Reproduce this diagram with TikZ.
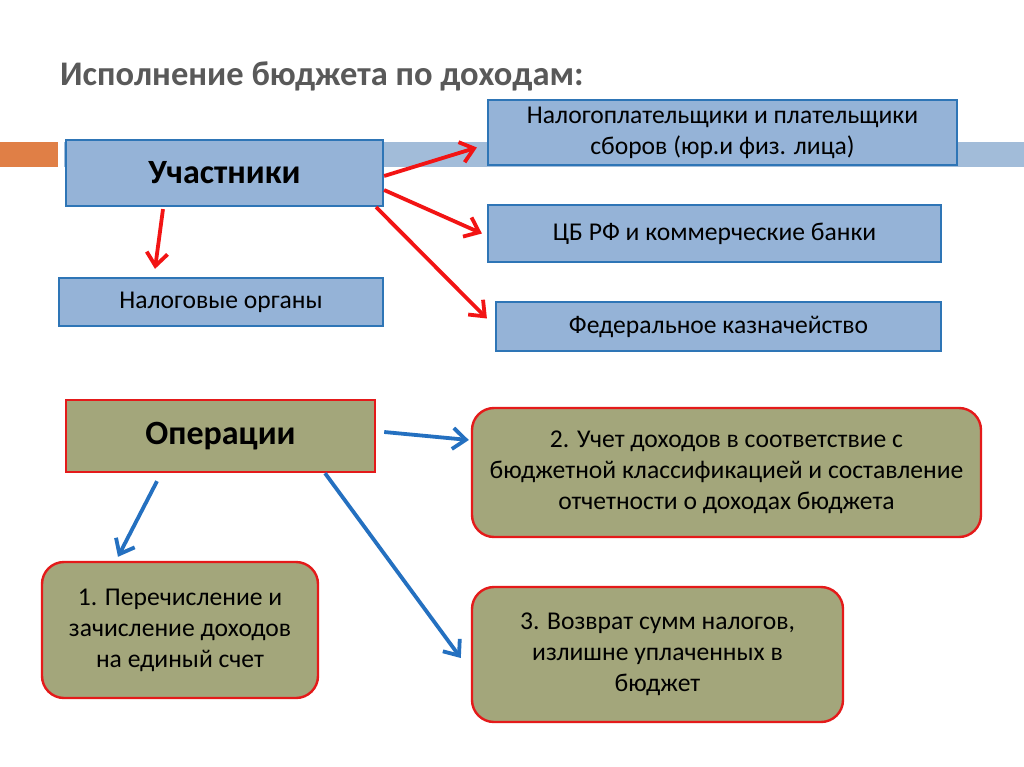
\documentclass[tikz,border=0pt]{standalone}
\usepackage{fontspec}
\setmainfont{Carlito}
\usetikzlibrary{arrows.meta,positioning}
\definecolor{bluefill}{HTML}{95B3D7}
\definecolor{blueline}{HTML}{2E75B6}
\definecolor{barc}{HTML}{A2BCD9}
\definecolor{orangec}{HTML}{E07F46}
\definecolor{olivefill}{HTML}{A3A67B}
\definecolor{redline}{HTML}{E41A1A}
\definecolor{arrred}{HTML}{F21414}
\definecolor{arrblue}{HTML}{2470C0}
\definecolor{titlec}{HTML}{595959}

\begin{document}
\begin{tikzpicture}[x=1pt, y=-1pt,
      every node/.style={font=\fontsize{25.6}{31}\selectfont, align=center, inner sep=0pt},
      bl/.style={draw=blueline, line width=2.2pt, fill=bluefill},
      ol/.style={draw=redline, line width=2.4pt, fill=olivefill},
      olr/.style={ol, rounded corners=22pt},
      hd/.style={font=\fontsize{34}{40}\selectfont\bfseries},
      ra/.style={-{Straight Barb[length=13pt,width=21pt]}, line width=3.8pt, draw=arrred},
      ba/.style={-{Straight Barb[length=13pt,width=21pt]}, line width=3.8pt, draw=arrblue}]
    \useasboundingbox (0,0) rectangle (1024,767);
    \fill[white] (0,0) rectangle (1024,767);
    % header bar
    \fill[orangec] (0,142) rectangle (58,167);
    \fill[barc] (64,142) rectangle (1024,167);
    \node[anchor=west, font=\fontsize{34.5}{40}\selectfont\bfseries, text=titlec] (title) at (60,76)
      {Исполнение бюджета по доходам:};
    % participants
    \node[bl, hd, minimum width=317pt, minimum height=66pt] (uch) at (224.5,173) {Участники};
    \node[bl, minimum width=469pt, minimum height=65pt] (nal) at (722.5,132.5)
      {Налогоплательщики и плательщики\\ сборов (юр.и физ. лица)};
    \node[bl, minimum width=453pt, minimum height=57pt] (cb) at (714.5,233.5)
      {ЦБ РФ и коммерческие банки};
    \node[bl, minimum width=445pt, minimum height=49pt] (fed) at (718.5,326.5)
      {Федеральное казначейство};
    \node[bl, minimum width=324pt, minimum height=48pt] (nalorg) at (221,302)
      {Налоговые органы};
    \draw[ra] ([yshift=-3pt]uch.east) -- ([xshift=-10pt, yshift=-15pt]nal.west);
    \draw[ra] ([yshift=-17pt]uch.east) -- ([xshift=-5pt]cb.west);
    \draw[ra] ([xshift=-8pt]uch.south east) -- ([xshift=-8pt, yshift=8pt]fed.west);
    \draw[ra] ([xshift=-61.5pt, yshift=-2pt]uch.south) -- ([xshift=-66pt, yshift=8pt]nalorg.north);
    % operations
    \node[ol, hd, minimum width=309pt, minimum height=72pt] (op) at (220.5,436) {Операции};
    \node[olr, minimum width=509pt, minimum height=129pt] (b2) at (726.5,472.5)
      {2. Учет доходов в соответствие с\\ бюджетной классификацией и составление\\ отчетности о доходах бюджета};
    \node[olr, minimum width=276pt, minimum height=136pt] (b1) at (180,630)
      {1. Перечисление и\\ зачисление доходов\\ на единый счет};
    \node[olr, minimum width=371pt, minimum height=135pt] (b3) at (657.5,654.5)
      {3. Возврат сумм налогов,\\ излишне уплаченных в\\ бюджет};
    \draw[ba] ([xshift=8pt, yshift=4pt]op.east) -- ([xshift=-2pt, yshift=32.5pt]b2.west);
    \draw[ba] ([xshift=-63.5pt, yshift=-8pt]op.south) -- ([xshift=-62pt, yshift=4pt]b1.north);
    \draw[ba] ([xshift=104.5pt]op.south) -- ([xshift=-10pt, yshift=-3.5pt]b3.west);
  \end{tikzpicture}
\end{document}
